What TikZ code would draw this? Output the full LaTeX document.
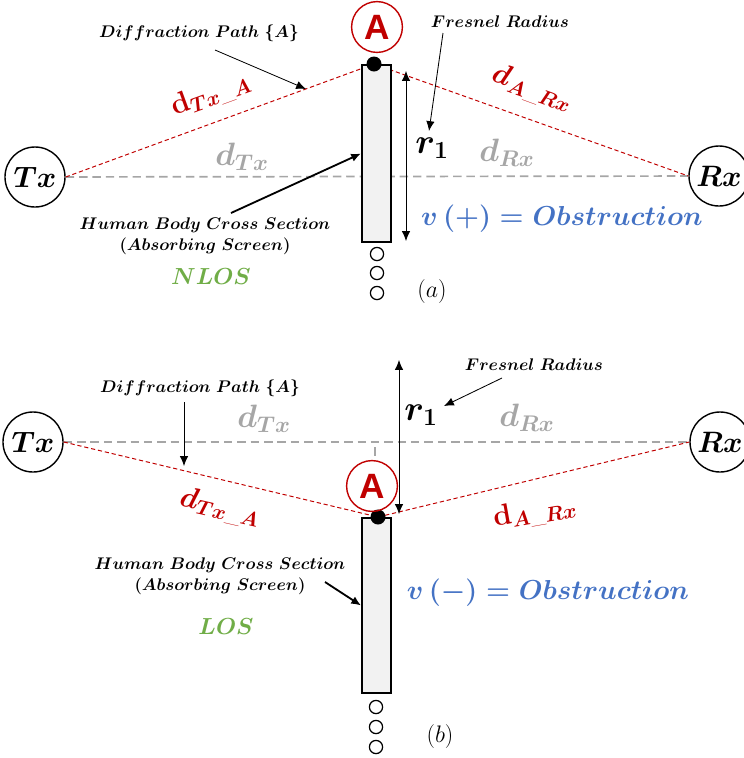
\documentclass[tikz,border=0pt]{standalone}
\usepackage{fix-cm}
\usepackage{amsmath}
\usepackage{amssymb}
\usepackage{fontspec}
\newfontfamily\arialfont{Liberation Sans}
\usepackage{tikz}
\usetikzlibrary{arrows.meta}
\usepackage{xcolor}
\definecolor{pathred}{RGB}{192,0,0}
\definecolor{losgray}{RGB}{166,166,166}
\definecolor{obsblue}{RGB}{68,114,196}
\definecolor{losgreen}{RGB}{112,173,71}
\definecolor{bodygray}{RGB}{242,242,242}

\begin{document}
\begin{tikzpicture}[x=0.025cm,y=-0.025cm,
  station/.style={draw,line width=1pt,circle,minimum size=1.5cm,inner sep=0pt,font=\boldmath\fontsize{21}{24}\selectfont},
  pointA/.style={draw=pathred,line width=1pt,circle,minimum size=1.27cm,inner sep=0pt,text=pathred,font=\arialfont\bfseries\fontsize{25}{27}\selectfont},
  body/.style={draw,line width=1.3pt,fill=bodygray,minimum width=0.725cm,inner sep=0pt},
  edgedot/.style={fill,circle,minimum size=0.375cm,inner sep=0pt},
  ring/.style={draw,line width=0.9pt,circle,minimum size=0.33cm,inner sep=0pt},
  los/.style={draw=losgray,line width=1.2pt,dash pattern=on 6pt off 3.5pt},
  diff/.style={draw=pathred,line width=0.7pt,dash pattern=on 3pt off 2pt},
  note/.style={font=\boldmath\fontsize{12}{15}\selectfont,align=center},
  dist/.style={font=\boldmath\fontsize{21}{24}\selectfont},
  losdist/.style={text=losgray,font=\boldmath\fontsize{23}{26}\selectfont},
  obs/.style={text=obsblue,font=\boldmath\fontsize{19.5}{23}\selectfont},
  case/.style={text=losgreen,font=\boldmath\fontsize{16.5}{20}\selectfont},
  pointer/.style={-{Latex[length=7pt,width=6pt]},line width=0.6pt},
  radius/.style={{Latex[length=7pt,width=6pt]}-{Latex[length=7pt,width=6pt]},line width=0.6pt}]
\useasboundingbox (0,0) rectangle (744,758);

% (a) NLOS: screen above the line of sight
\node[station] (txA) at (35,177) {$Tx$};
\node[station] (rxA) at (719,176) {$Rx$};
\coordinate (dotPosA) at (374,64);
\draw[los] (txA) -- (rxA);
\draw[diff] (txA.east) -- (dotPosA) -- (rxA.west);
\node[body,minimum height=4.425cm] (bodyA) at (376.5,153.5) {};
\node[edgedot] (dotA) at (dotPosA) {};
\node[pointA] (circA) at (377,27) {A};
\foreach \yy in {254,273,293}
  \node[ring] (ringA\yy) at (377,\yy) {};
\node[font=\fontsize{17}{19}\selectfont] (capA) at (432,292) {$(a)$};

\coordinate (rTopA) at (406,71);
\coordinate (rBotA) at (406,241);
\draw[radius] (rTopA) -- (rBotA);
\node[dist,font=\boldmath\fontsize{25}{28}\selectfont] (rA) at (432,148) {$r_1$};
\node[note] (fresA) at (500,22) {$Fresnel\ Radius$};
\coordinate (fresTailA) at (443,33);
\coordinate (fresHeadA) at (429,131);
\draw[pointer] (fresTailA) -- (fresHeadA);

\node[note] (pathA) at (199,33) {$Diffraction\ Path\ \{A\}$};
\coordinate (pathTailA) at (215,50);
\coordinate (pathHeadA) at (306,89);
\draw[pointer] (pathTailA) -- (pathHeadA);

\node[dist,text=pathred,rotate=20] (dTxA) at (211,95) {$\mathbf{d}_{Tx\text{\_}A}$};
\node[dist,text=pathred,rotate=-20] (dARxA) at (532,89) {$d_{A\text{\_}Rx}$};
\node[losdist] (dTxLosA) at (242,157) {$d_{Tx}$};
\node[losdist] (dRxLosA) at (507,153) {$d_{Rx}$};

\node[note] (humanA) at (205,236) {$Human\ Body\ Cross\ Section$\\$(Absorbing\ Screen)$};
\coordinate (humanTailA) at (231,213);
\draw[pointer,line width=1.3pt] (humanTailA) -- (bodyA.west);
\node[case] (nlos) at (211,277) {$NLOS$};
\node[obs] (obsA) at (562,219) {$v\,(+) = Obstruction$};

% (b) LOS: screen below the line of sight
\node[station] (txB) at (33,442) {$Tx$};
\node[station] (rxB) at (720,442) {$Rx$};
\coordinate (dotPosB) at (378,517);
\draw[los] (txB) -- (rxB);
\coordinate (tickTop) at (375,447);
\coordinate (tickBot) at (375,456);
\draw[losgray,line width=1.2pt] (tickTop) -- (tickBot);
\draw[diff] (txB.east) -- (dotPosB) -- (rxB.west);
\node[body,minimum height=4.375cm] (bodyB) at (376.5,605.5) {};
\node[edgedot] (dotB) at (dotPosB) {};
\node[pointA] (circB) at (372,486) {A};
\foreach \yy in {707,727,747}
  \node[ring] (ringB\yy) at (376,\yy) {};
\node[font=\fontsize{17}{19}\selectfont] (capB) at (440,737) {$(b)$};

\coordinate (rTopB) at (399,360);
\coordinate (rBotB) at (399,514);
\draw[radius] (rTopB) -- (rBotB);
\node[dist,font=\boldmath\fontsize{25}{28}\selectfont] (rB) at (421,415) {$r_1$};
\node[note] (fresB) at (534,365) {$Fresnel\ Radius$};
\coordinate (fresTailB) at (502,378);
\coordinate (fresHeadB) at (444,406);
\draw[pointer] (fresTailB) -- (fresHeadB);

\node[note] (pathB) at (200,388) {$Diffraction\ Path\ \{A\}$};
\coordinate (pathTailB) at (184,402);
\coordinate (pathHeadB) at (184,466);
\draw[pointer] (pathTailB) -- (pathHeadB);

\node[dist,text=pathred,rotate=-13] (dTxB) at (220,508) {$d_{Tx\text{\_}A}$};
\node[dist,text=pathred,rotate=10] (dARxB) at (535,513) {$\mathbf{d}_{A\text{\_}Rx}$};
\node[losdist] (dTxLosB) at (264,419) {$d_{Tx}$};
\node[losdist] (dRxLosB) at (527,418) {$d_{Rx}$};

\node[note] (humanB) at (220,576) {$Human\ Body\ Cross\ Section$\\$(Absorbing\ Screen)$};
\coordinate (humanTailB) at (325,582);
\draw[pointer,line width=1.3pt] (humanTailB) -- (bodyB.west);
\node[case] (los) at (226,627) {$LOS$};
\node[obs] (obsB) at (548,593) {$v\,(-) = Obstruction$};
\end{tikzpicture}
\end{document}
